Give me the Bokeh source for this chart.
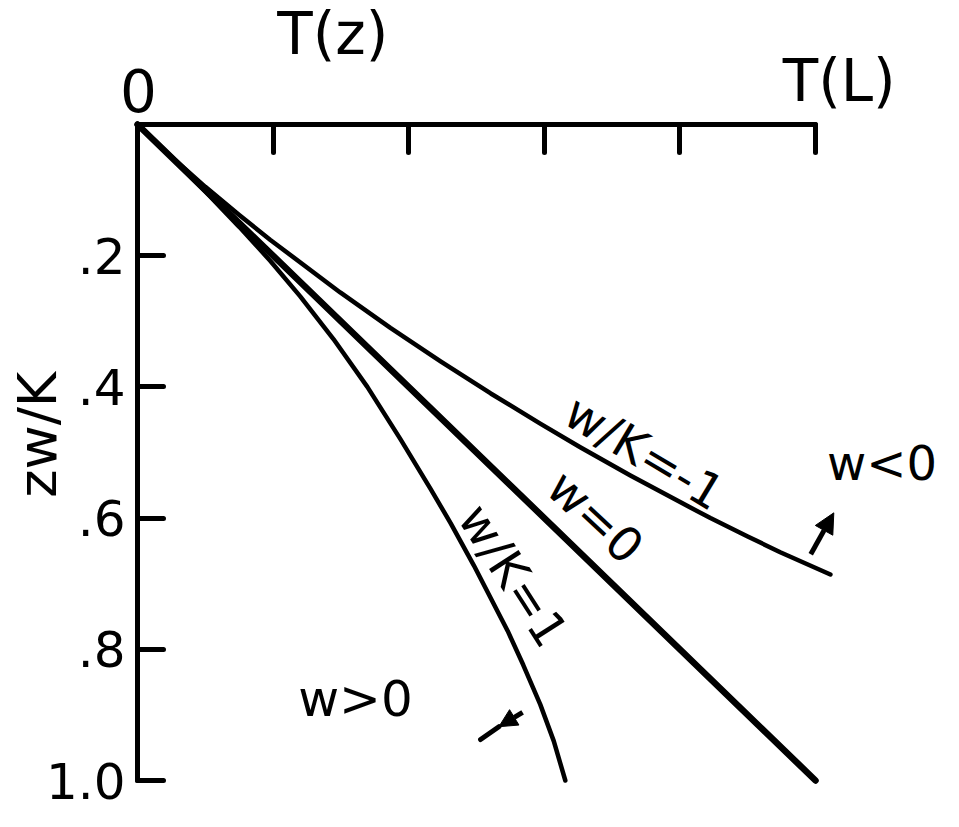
from bokeh.plotting import figure
from bokeh.models import Range1d, LinearAxis, FixedTicker, Label, Arrow, NormalHead
from bokeh.embed import file_html
from bokeh.resources import INLINE

# ---- data ----
# x: T(z)/T(L), z: zw/K
x_w0 = [0.0, 1.0]
z_w0 = [0.0, 1.0]

x_wk_neg1 = [0.0, 0.05, 0.1, 0.15, 0.196, 0.299, 0.373, 0.447, 0.521, 0.594, 0.653, 0.727, 0.801, 0.845, 0.900, 0.948, 1.022]
z_wk_neg1 = [0.0, 0.049, 0.095, 0.138, 0.176, 0.256, 0.310, 0.361, 0.410, 0.456, 0.492, 0.535, 0.576, 0.600, 0.628, 0.652, 0.686]

x_wk_pos1 = [0.0, 0.05, 0.1, 0.15, 0.196, 0.240, 0.289, 0.339, 0.388, 0.432, 0.462, 0.496, 0.546, 0.569, 0.594, 0.614, 0.631]
z_wk_pos1 = [0.0, 0.050, 0.102, 0.156, 0.208, 0.262, 0.327, 0.400, 0.480, 0.555, 0.608, 0.672, 0.772, 0.824, 0.884, 0.940, 1.0]

x_ticks = [0.0, 0.2, 0.4, 0.6, 0.8, 1.0]
z_ticks = [0.2, 0.4, 0.6, 0.8, 1.0]
z_tick_labels = [".2", ".4", ".6", ".8", "1.0"]

# arrows: (x_start, z_start, x_end, z_end)
arrow_wneg = [0.993, 0.655, 1.027, 0.592]
arrow_wpos = [0.568, 0.896, 0.533, 0.918]
arrow_wpos_tail = [0.533, 0.918, 0.506, 0.9375]

FONT = "DejaVu Sans"
W, H = 943, 811
X0, XPU = 137, 678
Y0, YPU = 124, 656

p = figure(width=W, height=H,
           x_range=Range1d(-X0 / XPU, (W - X0) / XPU),
           y_range=Range1d((H - Y0) / YPU, -Y0 / YPU),
           output_backend="svg", toolbar_location=None,
           x_axis_location=None, y_axis_location=None, min_border=0)
p.outline_line_color = None
p.background_fill_color = "white"
for g in p.grid:
    g.visible = False

xaxis = LinearAxis(ticker=FixedTicker(ticks=x_ticks), bounds=(0, 1), fixed_location=0,
                   axis_line_width=5, axis_line_cap="round",
                   major_tick_line_width=5, major_tick_line_cap="round",
                   major_tick_in=28, major_tick_out=0,
                   minor_tick_line_color=None,
                   major_label_text_color=None, major_label_text_font_size="1px")
p.add_layout(xaxis, "above")

yaxis = LinearAxis(ticker=FixedTicker(ticks=z_ticks), bounds=(0, 1), fixed_location=0,
                   axis_line_width=5, axis_line_cap="round",
                   major_tick_line_width=5, major_tick_line_cap="round",
                   major_tick_in=26, major_tick_out=0,
                   minor_tick_line_color=None,
                   major_label_overrides=dict(zip(z_ticks, z_tick_labels)),
                   major_label_text_font=FONT, major_label_text_font_size="50px",
                   major_label_text_color="black", major_label_standoff=12)
p.add_layout(yaxis, "left")

p.line(x_w0, z_w0, line_width=6.5, line_color="black", line_cap="round")
p.line(x_wk_neg1, z_wk_neg1, line_width=4.5, line_color="black", line_cap="round", line_join="round")
p.line(x_wk_pos1, z_wk_pos1, line_width=4.5, line_color="black", line_cap="round", line_join="round")

def lab(x, y, t, size, angle=0.0):
    p.add_layout(Label(x=x, y=y, text=t, text_font=FONT, text_font_size=size,
                       text_align="center", text_baseline="middle", angle=angle,
                       text_color="black"))

lab(0.288, -0.138, "T(z)", "58px")
lab(0.0015, -0.052, "0", "58px")
lab(1.035, -0.067, "T(L)", "58px")
lab(-0.1475, 0.473, "zw/K", "54px", 1.5708)
lab(0.748, 0.50, "w/K=-1", "48px", -0.54)
lab(0.6755, 0.598, "w=0", "48px", -0.75)
lab(0.5546, 0.6875, "w/K=1", "48px", -1.0)
lab(1.098, 0.516, "w<0", "48px")
lab(0.3215, 0.875, "w>0", "50px")

p.add_layout(Arrow(x_start=arrow_wneg[0], y_start=arrow_wneg[1], x_end=arrow_wneg[2], y_end=arrow_wneg[3],
                   line_width=5, line_color="black",
                   end=NormalHead(size=20, fill_color="black", line_color="black")))
p.add_layout(Arrow(x_start=arrow_wpos[0], y_start=arrow_wpos[1], x_end=arrow_wpos[2], y_end=arrow_wpos[3],
                   line_width=5, line_color="black",
                   end=NormalHead(size=18, fill_color="black", line_color="black")))
p.segment(x0=[arrow_wpos_tail[0]], y0=[arrow_wpos_tail[1]], x1=[arrow_wpos_tail[2]], y1=[arrow_wpos_tail[3]],
          line_width=5, line_color="black", line_cap="round")

open("out.html", "w").write(file_html(p, INLINE))
